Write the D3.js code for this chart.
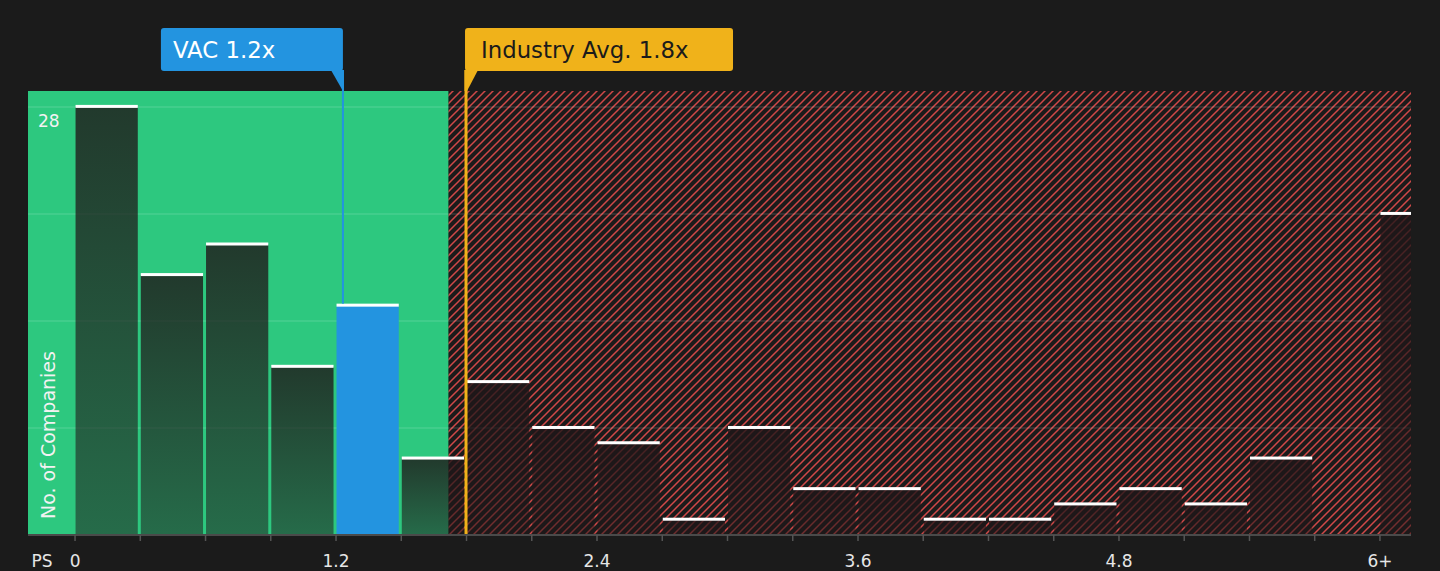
<!DOCTYPE html>
<html>
<head>
<meta charset="utf-8">
<script src="https://cdn.jsdelivr.net/npm/d3@7"></script>
<style>
  html, body { margin: 0; padding: 0; background: #1b1b1b; }
  svg { display: block; font-family: "DejaVu Sans", sans-serif; }
</style>
</head>
<body>
<div id="chart"></div>
<script>
// PS ratio bins (lower edge of each bin) and number of companies in each
const binStarts = [0, 0.3, 0.6, 0.9, 1.2, 1.5, 1.8, 2.1, 2.4, 2.7, 3.0, 3.3, 3.6, 3.9, 4.2, 4.5, 4.8, 5.1, 5.4, 5.7, 6.0];
const counts    = [28, 17, 19, 11, 15, 5, 10, 7, 6, 1, 7, 3, 3, 1, 1, 2, 3, 2, 5, 0, 21];
const binWidth = 0.3;

const tickValues = [0, 1.2, 2.4, 3.6, 4.8, 6.0];
const tickLabels = ["0", "1.2", "2.4", "3.6", "4.8", "6+"];
const gridValues = [7, 14, 21, 28];

const companyName = "VAC";
const companyPS = 1.234;
const industryAvg = 1.8;
const fairLimit = 1.72;   // end of the green zone

const width = 1440, height = 571;
const plotLeft = 28, plotRight = 1411, plotTop = 91, plotBottom = 535;

let svg = d3.select("#chart")
            .append("svg")
            .attr("width", width)
            .attr("height", height);

let x = d3.scaleLinear()
          .domain([-0.214, 6.145])
          .range([plotLeft, plotRight]);

let y = d3.scaleLinear()
          .domain([0, 29.04])
          .range([plotBottom, plotTop]);

let defs = svg.append("defs");

// diagonal red hatch for the "expensive" zone
let hatch = defs.append("pattern")
                .attr("id", "hatch")
                .attr("patternUnits", "userSpaceOnUse")
                .attr("width", 8)
                .attr("height", 8);
hatch.append("rect")
     .attr("width", 8).attr("height", 8)
     .attr("fill", "#1b1b1b");
hatch.append("path")
     .attr("d", "M-2,2 L2,-2 M0,8 L8,0 M6,10 L10,6")
     .attr("stroke", "#d04848")
     .attr("stroke-width", 1.5);

let grad = defs.append("linearGradient")
               .attr("id", "barShade")
               .attr("x1", 0).attr("y1", 0)
               .attr("x2", 0).attr("y2", 1);
grad.append("stop").attr("offset", "0%").attr("stop-color", "#1f1618").attr("stop-opacity", 0.8);
grad.append("stop").attr("offset", "100%").attr("stop-color", "#1f1618").attr("stop-opacity", 0.52);

defs.append("clipPath")
    .attr("id", "plotClip")
    .append("rect")
    .attr("x", plotLeft).attr("y", plotTop)
    .attr("width", plotRight - plotLeft).attr("height", plotBottom - plotTop);

// background zones
svg.append("rect")
   .attr("x", plotLeft).attr("y", plotTop)
   .attr("width", x(fairLimit) - plotLeft)
   .attr("height", plotBottom - plotTop)
   .attr("fill", "#2dc87f");

svg.append("rect")
   .attr("x", x(fairLimit)).attr("y", plotTop)
   .attr("width", plotRight - x(fairLimit))
   .attr("height", plotBottom - plotTop)
   .attr("fill", "url(#hatch)");

// gridlines
svg.append("g")
   .selectAll("line")
   .data(gridValues)
   .join("line")
   .attr("x1", plotLeft).attr("x2", plotRight)
   .attr("y1", d => y(d)).attr("y2", d => y(d))
   .attr("stroke", "rgba(255,255,255,0.13)")
   .attr("stroke-width", 1.5);

let bars = binStarts.map((s, i) => ({start: s, count: counts[i]}));
let isCompanyBin = d => companyPS >= d.start && companyPS < d.start + binWidth;

let plot = svg.append("g").attr("clip-path", "url(#plotClip)");

plot.selectAll("rect.bar")
    .data(bars.filter(d => d.count > 0))
    .join("rect")
    .attr("class", "bar")
    .attr("x", d => x(d.start) + 1)
    .attr("width", d => x(d.start + binWidth) - x(d.start) - 3)
    .attr("y", d => y(d.count))
    .attr("height", d => plotBottom - y(d.count))
    .attr("fill", d => isCompanyBin(d) ? "#2394e0" : "url(#barShade)");

plot.selectAll("rect.cap")
    .data(bars.filter(d => d.count > 0))
    .join("rect")
    .attr("class", "cap")
    .attr("x", d => x(d.start) + 1)
    .attr("width", d => x(d.start + binWidth) - x(d.start) - 3)
    .attr("y", d => y(d.count) - 2)
    .attr("height", 3)
    .attr("fill", "#ffffff");

// company marker
let companyBar = bars.find(isCompanyBin);
svg.append("line")
   .attr("x1", x(companyPS)).attr("x2", x(companyPS))
   .attr("y1", 70).attr("y2", y(companyBar.count) - 2)
   .attr("stroke", "#2394e0")
   .attr("stroke-width", 2);

// industry marker
svg.append("line")
   .attr("x1", x(industryAvg)).attr("x2", x(industryAvg))
   .attr("y1", 70).attr("y2", plotBottom)
   .attr("stroke", "#f0b21a")
   .attr("stroke-width", 3);

// annotation boxes
let cx = x(companyPS);
svg.append("rect")
   .attr("x", cx - 182).attr("y", 28)
   .attr("width", 182).attr("height", 43)
   .attr("rx", 3)
   .attr("fill", "#2394e0");
svg.append("path")
   .attr("d", `M${cx - 12},70 L${cx + 1},70 L${cx + 1},${plotTop} L${cx},${plotTop} Z`)
   .attr("fill", "#2394e0");
svg.append("text")
   .attr("x", cx - 170).attr("y", 58)
   .attr("fill", "#ffffff")
   .attr("font-size", 22.8)
   .text(companyName + " " + d3.format(".1f")(companyPS) + "x");

let ix = x(industryAvg);
svg.append("rect")
   .attr("x", ix - 1).attr("y", 28)
   .attr("width", 268).attr("height", 43)
   .attr("rx", 3)
   .attr("fill", "#f0b21a");
svg.append("path")
   .attr("d", `M${ix - 1.5},70 L${ix + 12},70 L${ix + 1},${plotTop} L${ix - 1.5},${plotTop} Z`)
   .attr("fill", "#f0b21a");
svg.append("text")
   .attr("x", ix + 15).attr("y", 58)
   .attr("fill", "#1b1b1b")
   .attr("font-size", 22.8)
   .text("Industry Avg. " + d3.format(".1f")(industryAvg) + "x");

// x axis
let xAxis = d3.axisBottom(x)
              .tickValues(binStarts)
              .tickSize(6)
              .tickPadding(14)
              .tickFormat(d => {
                  let k = tickValues.findIndex(t => Math.abs(t - d) < 1e-6);
                  return k >= 0 ? tickLabels[k] : "";
              });

let axisG = svg.append("g")
               .attr("transform", `translate(0,${plotBottom})`)
               .call(xAxis);
axisG.select(".domain").remove();
axisG.insert("line", ":first-child")
     .attr("x1", plotLeft).attr("x2", plotRight)
     .attr("stroke", "#4a4a4a")
     .attr("stroke-width", 2);
axisG.selectAll(".tick line").attr("stroke", "#555").attr("stroke-width", 1.5);
axisG.selectAll(".tick text")
     .attr("fill", "#e6e6e6")
     .attr("font-size", 17)
     .attr("font-family", "DejaVu Sans, sans-serif");

svg.append("text")
   .attr("x", 42).attr("y", 567)
   .attr("text-anchor", "middle")
   .attr("fill", "#e6e6e6")
   .attr("font-size", 17)
   .text("PS");

// y labels
svg.append("text")
   .attr("x", 38).attr("y", y(28) + 20)
   .attr("fill", "#f2f2f2")
   .attr("font-size", 17)
   .text("28");

svg.append("text")
   .attr("transform", "translate(55,519) rotate(-90)")
   .attr("fill", "#f2f2f2")
   .attr("font-size", 19)
   .text("No. of Companies");
</script>
</body>
</html>
